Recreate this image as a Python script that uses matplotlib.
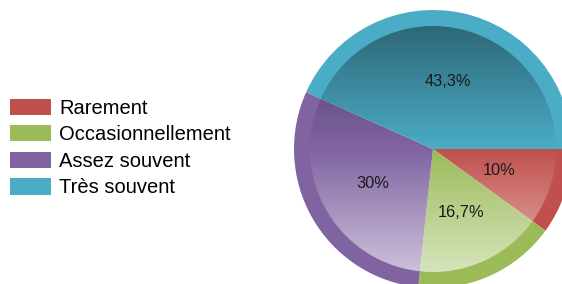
import numpy as np
import matplotlib.pyplot as plt
from matplotlib.patches import Circle

categories = ['Rarement', 'Occasionnellement', 'Assez souvent', 'Très souvent']
shares = [10, 16.7, 30, 43.3]
colors = ['#C0504D', '#9BBB59', '#8064A2', '#4BACC6']

plt.rcParams['font.family'] = ['Liberation Sans', 'DejaVu Sans']

fig = plt.figure(figsize=(5.62, 2.84), dpi=100)
ax = fig.add_axes([0, 0, 1, 1])

cx, cy, r = 433, 135, 139
r_in = 123


def pct_label(p):
    s = f'{p:.1f}'.replace('.', ',')
    if s.endswith(',0'):
        s = s[:-2]
    return s + '%'


wedges, _, autotexts = ax.pie(shares, colors=colors, startangle=0, counterclock=False,
                              center=(cx, cy), radius=r, autopct=pct_label,
                              pctdistance=0.5, frame=True,
                              wedgeprops=dict(linewidth=0),
                              textprops=dict(fontsize=11.8, color='#1a1a1a'))

# vertical shading on the inner disc: darker at top, lighter at bottom
n = 256
t = np.linspace(-1, 1, n)
grad = np.zeros((n, 1, 4))
top = t < 0
grad[top, 0, 3] = -t[top] * 0.4
grad[~top, 0, :3] = 1.0
grad[~top, 0, 3] = t[~top] * 0.6
im = ax.imshow(grad, extent=[cx - r_in, cx + r_in, cy - r_in, cy + r_in],
               origin='upper', aspect='auto', zorder=1.5, interpolation='bilinear')
im.set_clip_path(Circle((cx, cy), r_in, transform=ax.transData))

ax.set_xlim(0, 562)
ax.set_ylim(0, 284)
ax.set_aspect('equal')
ax.axis('off')

fig.legend(wedges, categories, loc='center left', bbox_to_anchor=(10 / 562, 1 - 148 / 284),
           frameon=False, fontsize=14.5, handlelength=2.05, handleheight=0.85,
           handletextpad=0.4, labelspacing=0.38, borderpad=0, borderaxespad=0)

plt.savefig('out.png', dpi=100)
plt.close()
